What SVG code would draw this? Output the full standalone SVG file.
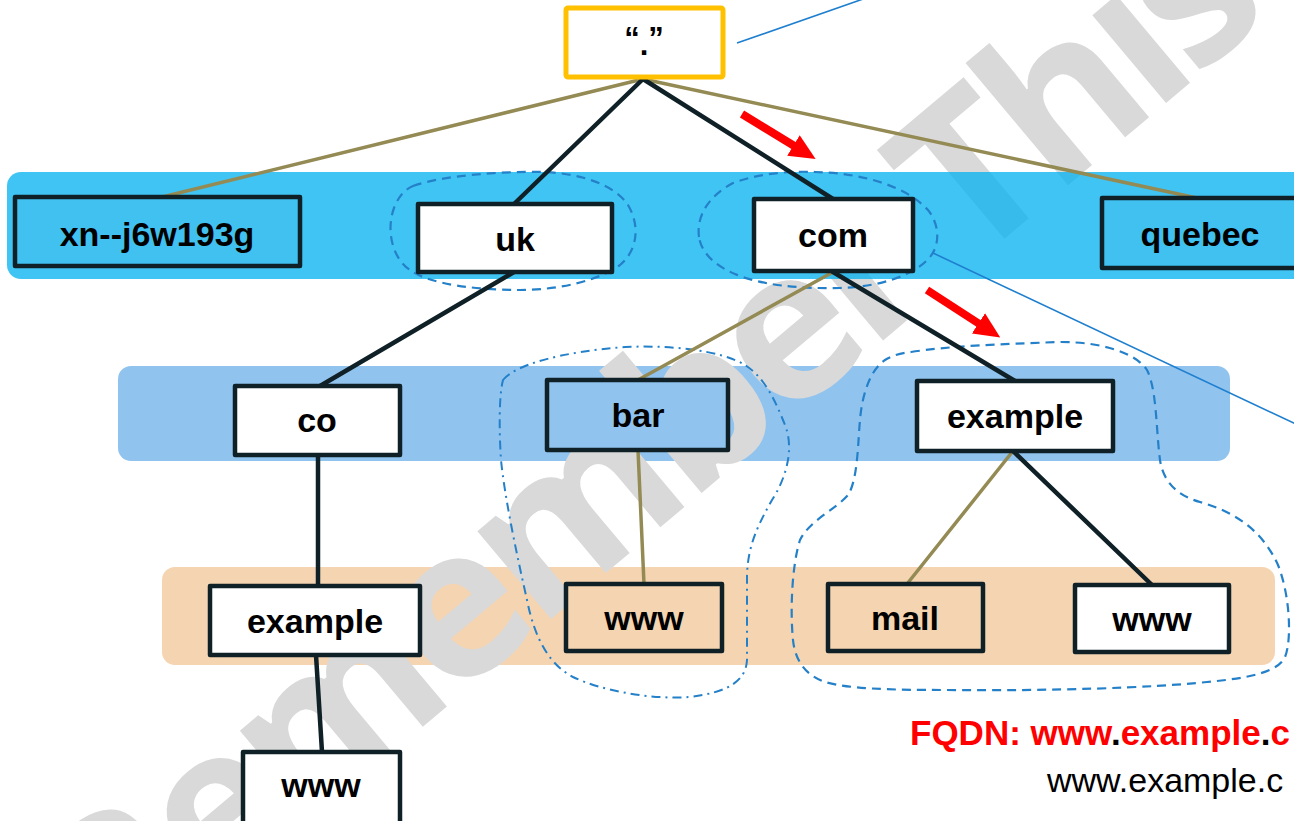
<svg xmlns="http://www.w3.org/2000/svg" width="1294" height="821" viewBox="0 0 1294 821">
<defs>
<style>
.box{stroke:#0f2127;stroke-width:4.5;stroke-linejoin:round}
.lbl{font-family:"Liberation Sans",Arial,sans-serif;font-weight:bold;font-size:34px;text-anchor:middle;fill:#000}
.dark{stroke:#0f2127;stroke-width:4.5;fill:none;stroke-linecap:round}
.olive{stroke:#948a54;stroke-width:3.5;fill:none;stroke-linecap:round}
.blob{fill:none;stroke:#2480c8;stroke-width:2.2;stroke-dasharray:9 6}
.blobdd{fill:none;stroke:#2480c8;stroke-width:2;stroke-dasharray:9 5 2 5}
.thin{stroke:#1e7fcf;stroke-width:1.6;fill:none}
.red{stroke:#ff0000;stroke-width:8;fill:none}
</style>
<marker id="ah" markerUnits="userSpaceOnUse" markerWidth="26" markerHeight="26" viewBox="0 0 26 26" refX="3" refY="13" orient="auto">
<path d="M0,1 L26,13 L0,25 Z" fill="#ff0000"/>
</marker>
</defs>
<rect width="1294" height="821" fill="#ffffff"/>
<g id="bands-lower">
<rect x="118" y="366" width="1112" height="95" rx="13" fill="#91c3ef"/>
<rect x="162" y="567" width="1113" height="98" rx="13" fill="#f5d4b1"/>
</g>
<text id="watermark" transform="translate(115 985) rotate(-40)" font-family="'Open Sans',sans-serif" font-weight="bold" font-size="210" letter-spacing="-10" fill="#d9d9d9">Remember This</text>
<g id="band-top">
<rect x="7" y="172" width="1310" height="107" rx="14" fill="#00b0f0" fill-opacity="0.75"/>
</g>
<g id="groups">
<path class="blob" d="M413,186 C440,176 500,171 543,172 C580,173 615,185 628,205 C640,225 638,250 620,265 C600,280 560,290 520,290 C480,290 430,285 410,270 C392,258 386,230 394,208 C399,195 406,189 413,186 Z"/>
<path class="blob" d="M699,237 C696,215 710,195 733,183 C760,173 790,171 815,172 C860,173 905,185 928,210 C940,225 940,245 930,257 C915,275 880,287 840,288 C800,289 760,285 735,274 C711,264 701,250 699,237 Z"/>
<path class="blob" d="M911,352 C950,346 1000,344 1061,342 C1100,342 1135,352 1147,370 C1157,390 1156,430 1160,460 C1163,480 1175,495 1200,502 C1235,512 1262,530 1278,565 C1290,595 1292,640 1285,657 C1278,672 1250,678 1207,682 C1150,688 1050,691 947,690 C890,690 850,689 825,682 C805,675 795,660 793,640 C790,610 792,565 800,540 C810,520 835,510 848,495 C858,480 858,440 860,420 C862,395 870,370 885,360 C893,355 902,353 911,352 Z"/>
<path class="blobdd" d="M503,380 C515,365 560,352 625,347 C670,345 720,350 745,365 C765,378 775,400 785,425 C795,450 785,480 772,500 C758,525 748,545 747,575 L747,660 C746,680 730,692 690,697 C650,700 600,690 573,677 C550,665 535,640 527,600 C518,560 505,500 501,460 C499,430 499,395 503,380 Z"/>
</g>
<g id="connectors">
<line class="olive" x1="643" y1="79" x2="158" y2="198"/>
<line class="olive" x1="643" y1="79" x2="1197" y2="198"/>
<line class="dark" x1="643" y1="79" x2="514" y2="204"/>
<line class="dark" x1="643" y1="79" x2="833" y2="199"/>
<line class="dark" x1="514" y1="272" x2="320" y2="386"/>
<line class="dark" x1="318" y1="455" x2="318" y2="586"/>
<line class="dark" x1="316" y1="655" x2="322" y2="752"/>
<line class="olive" x1="833" y1="272" x2="638" y2="380"/>
<line class="dark" x1="833" y1="272" x2="1015" y2="381"/>
<line class="olive" x1="638" y1="450" x2="644" y2="584"/>
<line class="olive" x1="1013" y1="451" x2="907" y2="584"/>
<line class="dark" x1="1013" y1="451" x2="1152" y2="585"/>
<line class="thin" x1="737" y1="43" x2="866" y2="-2"/>
<line class="thin" x1="933" y1="253" x2="1300" y2="426"/>
<line class="red" x1="742" y1="114" x2="796" y2="147" marker-end="url(#ah)"/>
<line class="red" x1="927" y1="290" x2="981" y2="325" marker-end="url(#ah)"/>
</g>
<g id="node-root">
<rect x="566" y="8" width="157" height="69" rx="2" fill="#ffffff" stroke="#ffc000" stroke-width="5"/>
<text x="644" y="49" font-family="'Liberation Sans',Arial,sans-serif" font-weight="bold" font-size="31" text-anchor="middle">“<tspan dy="6">.</tspan><tspan dy="-6">”</tspan></text>
</g>
<g id="node-xn">
<rect class="box" x="15" y="197" width="285" height="69" fill="#40c1f0"/>
<text class="lbl" x="157" y="246">xn--j6w193g</text>
</g>
<g id="node-uk">
<rect class="box" x="418" y="204" width="194" height="68" fill="#ffffff"/>
<text class="lbl" x="515" y="251">uk</text>
</g>
<g id="node-com">
<rect class="box" x="754" y="199" width="159" height="72" fill="#ffffff"/>
<text class="lbl" x="833" y="247">com</text>
</g>
<g id="node-quebec">
<rect class="box" x="1102" y="198" width="198" height="70" fill="#40c1f0"/>
<text class="lbl" x="1200" y="246">quebec</text>
</g>
<g id="node-co">
<rect class="box" x="235" y="386" width="165" height="69" fill="#ffffff"/>
<text class="lbl" x="317" y="432">co</text>
</g>
<g id="node-bar">
<rect class="box" x="547" y="380" width="181" height="70" fill="#91c3ef"/>
<text class="lbl" x="638" y="427">bar</text>
</g>
<g id="node-example-com">
<rect class="box" x="917" y="381" width="196" height="70" fill="#ffffff"/>
<text class="lbl" x="1015" y="428">example</text>
</g>
<g id="node-example-co">
<rect class="box" x="210" y="586" width="210" height="69" fill="#ffffff"/>
<text class="lbl" x="315" y="633">example</text>
</g>
<g id="node-www-co">
<rect class="box" x="243" y="752" width="157" height="74" fill="#ffffff"/>
<text class="lbl" x="321" y="797">www</text>
</g>
<g id="node-www-bar">
<rect class="box" x="566" y="584" width="156" height="67" fill="#f5d4b1"/>
<text class="lbl" x="644" y="630">www</text>
</g>
<g id="node-mail">
<rect class="box" x="828" y="584" width="155" height="67" fill="#f5d4b1"/>
<text class="lbl" x="905" y="630">mail</text>
</g>
<g id="node-www-example">
<rect class="box" x="1075" y="585" width="154" height="67" fill="#ffffff"/>
<text class="lbl" x="1152" y="631">www</text>
</g>
<g id="fqdn">
<text x="910" y="745" font-family="'Liberation Sans',Arial,sans-serif" font-weight="bold" font-size="35" fill="#ff0000">FQDN: www<tspan fill="#000">.</tspan>example<tspan fill="#000">.</tspan>c</text>
<text x="1047" y="792" font-family="'Liberation Sans',Arial,sans-serif" font-size="34" fill="#000">www.example.c</text>
</g>
</svg>
